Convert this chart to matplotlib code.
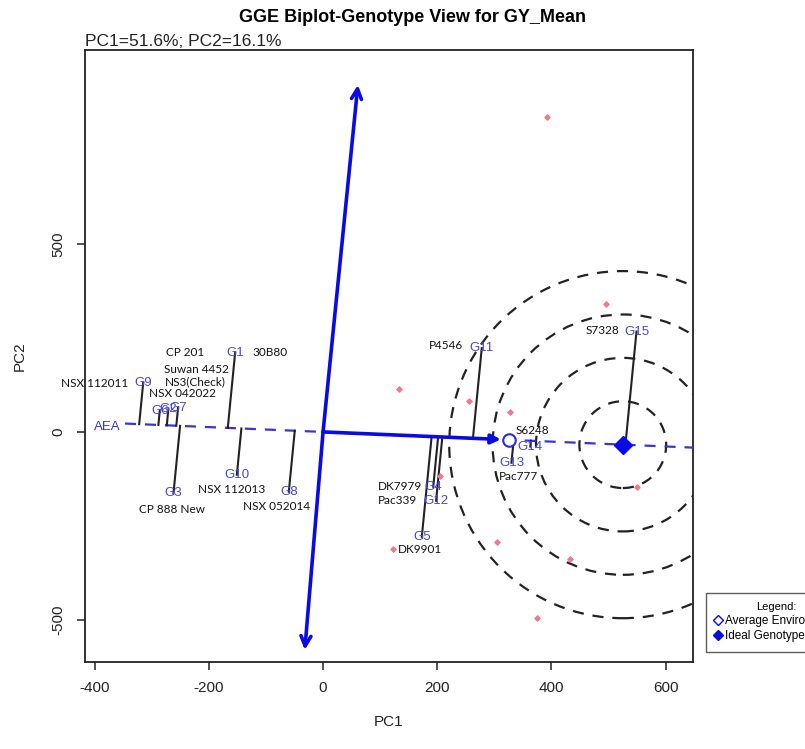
import matplotlib
matplotlib.use('Agg')
import matplotlib.pyplot as plt
from matplotlib.patches import Ellipse
from matplotlib.lines import Line2D
import numpy as np

plt.rcParams['font.family'] = ['Liberation Sans', 'DejaVu Sans']
plt.rcParams['axes.unicode_minus'] = False

# genotype scores (PC1, PC2)
gen_labels = ['G1', 'G9', 'G6', 'G2', 'G7', 'G3', 'G10', 'G8',
              'G11', 'G14', 'G13', 'G15', 'G4', 'G12', 'G5']
gen_pc1 = [-154, -315, -286, -271, -254, -262, -151, -60,
           278, 363, 330, 549, 193, 198, 173]
gen_pc2 = [211, 131, 57, 60, 64, -163, -114, -159,
           223, -39, -82, 267, -146, -183, -279]

# environment scores
env_pc1 = [392, 496, 133, 256, 328, 205, 123, 305, 433, 375, 550]
env_pc2 = [838, 340, 114, 82, 53, -117, -311, -293, -338, -495, -146]

# average environment coordinate, ideal genotype
aec = (326, -21)
ideal_pc1 = 525
ring_steps = [76, 152, 228, 304]

# ATC ordinate arrow tips
atc_top = (61, 923)
atc_bottom = (-32, -580)

# genotype names written next to the markers
names = ['30B80', 'CP 201', 'Suwan 4452', 'NS3(Check)', 'NSX 042022',
         'NSX 112011', 'CP 888 New', 'NSX 112013', 'NSX 052014', 'P4546',
         'S6248', 'Pac777', 'DK7979', 'Pac339', 'DK9901', 'S7328']
name_x = [-93, -242, -221, -224, -246, -401, -265, -161, -81, 215,
          367, 342, 135, 131, 170, 490]
name_y = [210, 210, 165, 134, 103, 130, -207, -152, -199, 229,
          4, -119, -146, -183, -314, 269]

fig = plt.figure(figsize=(8.05, 7.49), dpi=100)
ax = fig.add_axes([85/805, 1-662/749, 608/805, 612/749])
ax.set_xlim(-417, 648)
ax.set_ylim(-612, 1016)

slope = aec[1] / aec[0]
ideal = (ideal_pc1, slope * ideal_pc1)

# circles round in pixels
fig.canvas.draw()
sx = ax.get_window_extent().width / 1065.0
sy = ax.get_window_extent().height / 1628.0
for r in ring_steps:
    ax.add_patch(Ellipse(ideal, 2*r, 2*r*sx/sy, fill=False, ec='#222222',
                         lw=1.6, ls=(0, (5, 4)), zorder=2))

# AEA line
xs = np.array([-347, 700])
ax.plot(xs, slope*xs, color='#3535e0', lw=1.6, ls=(0, (5, 4)), zorder=3)
ax.text(-378, 13, 'AEA', color='#3535e0', fontsize=9.5, ha='center', va='center')

# projection lines
for gx, gy in zip(gen_pc1, gen_pc2):
    t = (gx + slope*gy) / (1 + slope**2)
    ax.plot([gx, t], [gy, slope*t], color='#222222', lw=1.5, zorder=3)

# arrows
ax.annotate('', xy=atc_top, xytext=(0, 0),
            arrowprops=dict(arrowstyle='->', color='#0a0ae6', lw=2.6,
                            mutation_scale=18, shrinkA=0, shrinkB=0), zorder=4)
ax.annotate('', xy=atc_bottom, xytext=(0, 0),
            arrowprops=dict(arrowstyle='->', color='#0a0ae6', lw=2.6,
                            mutation_scale=18, shrinkA=0, shrinkB=0), zorder=4)
ax.annotate('', xy=aec, xytext=(0, 0),
            arrowprops=dict(arrowstyle='-|>', color='#0a0ae6', lw=2.6,
                            mutation_scale=14, shrinkA=0, shrinkB=6), zorder=4)

ax.plot(*aec, marker='o', ms=9, mfc='white', mec='#2a2ae6', mew=1.5, zorder=5)
ax.plot(*ideal, marker='D', ms=9, color='#0a0ae6', zorder=5)

ax.scatter(env_pc1, env_pc2, marker='D', s=7, color='#f07a8a', zorder=3)

for lab, gx, gy in zip(gen_labels, gen_pc1, gen_pc2):
    ax.text(gx, gy, lab, color='#4545d8', fontsize=9.5, ha='center',
            va='center', zorder=6)

for nm, nx, ny in zip(names, name_x, name_y):
    ax.text(nx, ny, nm, color='#111111', fontsize=8.5, family='Lato',
            ha='center', va='center', zorder=6)

ax.set_xticks([-400, -200, 0, 200, 400, 600])
ax.set_yticks([-500, 0, 500])
ax.set_yticklabels(['-500', '0', '500'], rotation=90, va='center')
ax.tick_params(labelsize=11, length=6, width=1.2, pad=8, color='#333333',
               labelcolor='#222222')
for s in ax.spines.values():
    s.set_linewidth(1.3)
    s.set_color('#222222')
ax.set_xlabel('PC1', fontsize=11, labelpad=14, color='#222222')
ax.set_ylabel('PC2', fontsize=11, labelpad=18, color='#222222')

fig.text(412/805, 1-17/749, 'GGE Biplot-Genotype View for GY_Mean',
         fontsize=13, fontweight='bold', ha='center', va='center')
fig.text(85/805, 1-42/749, 'PC1=51.6%; PC2=16.1%', fontsize=12.5,
         ha='left', va='center', color='#222222')

handles = [Line2D([], [], ls='none', marker='D', mfc='white', mec='#0a0ae6', ms=5),
           Line2D([], [], ls='none', marker='D', color='#0a0ae6', ms=5)]
fig.legend(handles, ['Average Environment', 'Ideal Genotype'], title='Legend:',
           loc='upper left', bbox_to_anchor=(706/805, 1-593/749),
           fontsize=8.5, title_fontsize=8, fancybox=False, edgecolor='#333333',
           handlelength=0.5, handletextpad=0.3, borderpad=0.8, labelspacing=0.25,
           borderaxespad=0)

fig.savefig('out.png', dpi=100)
